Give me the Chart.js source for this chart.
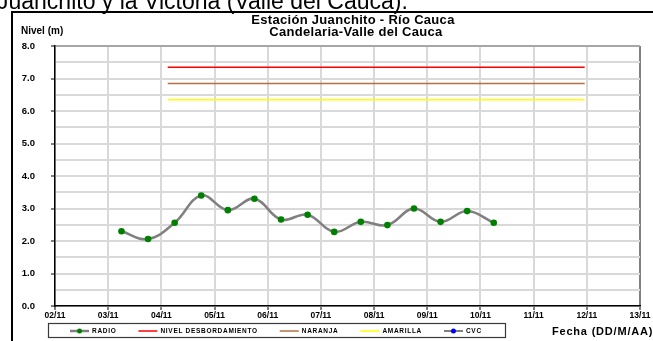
<!DOCTYPE html>
<html>
<head>
<meta charset="utf-8">
<script src="https://cdn.jsdelivr.net/npm/chart.js@4/dist/chart.umd.min.js"></script>
<style>
  html, body { margin: 0; padding: 0; background: #fff; overflow: hidden; }
  canvas { display: block; }
</style>
</head>
<body>
<canvas id="c" width="653" height="341"></canvas>
<script>
// Day of month (November 2011) used on the date axis
const dayTicks = [2, 3, 4, 5, 6, 7, 8, 9, 10, 11, 12, 13];
const xTickLabels = ['02/11', '03/11', '04/11', '05/11', '06/11', '07/11', '08/11', '09/11', '10/11', '11/11', '12/11', '13/11'];
const yTickLabels = ['0.0', '1.0', '2.0', '3.0', '4.0', '5.0', '6.0', '7.0', '8.0'];

// Radio readings: time (day.fraction) and level in metres
const readingTimes = [3.25, 3.75, 4.25, 4.75, 5.25, 5.75, 6.25, 6.75, 7.25, 7.75, 8.25, 8.75, 9.25, 9.75, 10.25];
const radioLevels = [2.30, 2.06, 2.56, 3.40, 2.95, 3.30, 2.66, 2.81, 2.28, 2.59, 2.49, 3.00, 2.59, 2.92, 2.56];

// Alert thresholds (m) and the period they are drawn over
const alertSpan = [4.12, 11.96];
const nivelDesbordamiento = 7.35;
const nivelNaranja = 6.85;
const nivelAmarilla = 6.35;

const FONT = '"Liberation Sans", Arial, sans-serif';

function flatLine(level) {
  return alertSpan.map(x => ({ x: x, y: level }));
}

// Surrounding frame, headings and axis captions
const textPlugin = {
  id: 'captions',
  afterDraw(chart) {
    const ctx = chart.ctx;
    ctx.save();
    // paragraph text running above the figure
    ctx.fillStyle = '#000';
    ctx.font = '23px ' + FONT;
    ctx.textBaseline = 'alphabetic';
    ctx.textAlign = 'left';
    ctx.fillText('Juanchito y la Victoria (Valle del Cauca).', -3, 9);

    // chart frame
    ctx.fillRect(11, 11, 653, 2);
    ctx.fillRect(11, 11, 2, 341);

    // title
    ctx.textAlign = 'center';
    ctx.textBaseline = 'middle';
    ctx.font = 'bold 13px ' + FONT;
    ctx.letterSpacing = '0.3px';
    ctx.fillText('Estación Juanchito - Río Cauca', 353, 20);
    ctx.fillText('Candelaria-Valle del Cauca', 356, 32);

    ctx.textAlign = 'left';
    ctx.letterSpacing = '0px';
    ctx.font = 'bold 10px ' + FONT;
    ctx.fillText('Nivel (m)', 21, 31);

    ctx.font = 'bold 11px ' + FONT;
    ctx.letterSpacing = '0.8px';
    ctx.fillText('Fecha (DD/M/AA)', 552, 332);
    ctx.restore();
  }
};

// Boxed legend below the axis
const legendPlugin = {
  id: 'boxLegend',
  afterDraw(chart) {
    const ctx = chart.ctx;
    ctx.save();
    ctx.strokeStyle = '#3a3a3a';
    ctx.lineWidth = 1.2;
    ctx.strokeRect(48.5, 323.5, 457, 14);
    ctx.font = 'bold 6.5px ' + FONT;
    ctx.letterSpacing = '0.7px';
    ctx.textBaseline = 'middle';
    ctx.textAlign = 'left';
    const cy = 331;
    let x = 70;
    chart.data.datasets.forEach(ds => {
      ctx.strokeStyle = ds.borderColor;
      ctx.lineWidth = ds.borderWidth;
      ctx.beginPath();
      ctx.moveTo(x, cy);
      ctx.lineTo(x + 19, cy);
      ctx.stroke();
      if (ds.pointRadius > 0) {
        ctx.fillStyle = ds.pointBackgroundColor;
        ctx.beginPath();
        ctx.arc(x + 9.5, cy, 2.5, 0, Math.PI * 2);
        ctx.fill();
      }
      ctx.fillStyle = '#000';
      ctx.fillText(ds.label, x + 22, cy + 0.5);
      x += 22 + ctx.measureText(ds.label).width + 22;
    });
    ctx.restore();
  }
};

new Chart(document.getElementById('c'), {
  type: 'line',
  data: {
    datasets: [
      {
        label: 'RADIO',
        data: readingTimes.map((t, i) => ({ x: t, y: radioLevels[i] })),
        borderColor: '#808080',
        borderWidth: 2.5,
        tension: 0.4,
        pointRadius: 3.3,
        pointBackgroundColor: '#008000',
        pointBorderColor: '#008000',
        pointBorderWidth: 0
      },
      {
        label: 'NIVEL DESBORDAMIENTO',
        data: flatLine(nivelDesbordamiento),
        borderColor: '#ff0000',
        borderWidth: 1.5,
        pointRadius: 0
      },
      {
        label: 'NARANJA',
        data: flatLine(nivelNaranja),
        borderColor: '#b5703f',
        borderWidth: 1.5,
        pointRadius: 0
      },
      {
        label: 'AMARILLA',
        data: flatLine(nivelAmarilla),
        borderColor: '#ffff00',
        borderWidth: 1.5,
        pointRadius: 0
      },
      {
        label: 'CVC',
        data: [],
        borderColor: '#808080',
        borderWidth: 2,
        pointRadius: 3,
        pointBackgroundColor: '#0000ff',
        pointBorderColor: '#0000ff'
      }
    ]
  },
  options: {
    responsive: false,
    animation: false,
    devicePixelRatio: 1,
    layout: { padding: { top: 46, right: 13, left: 0, bottom: 0 } },
    plugins: {
      legend: { display: false },
      title: { display: false },
      tooltip: { enabled: false }
    },
    scales: {
      x: {
        type: 'linear',
        min: 2,
        max: 13,
        afterBuildTicks: scale => { scale.ticks = dayTicks.map(v => ({ value: v })); },
        afterFit: scale => { scale.height = 35; },
        ticks: {
          autoSkip: false,
          maxRotation: 0,
          padding: 1,
          color: '#000',
          font: { family: FONT, size: 8.5, weight: 'bold' },
          callback: v => xTickLabels[dayTicks.indexOf(v)]
        },
        grid: {
          color: c => (c.tick && c.tick.value === 13) ? '#808080' : '#d9d9d9',
          lineWidth: 2,
          tickLength: 4,
          tickColor: '#000',
          tickWidth: 1
        },
        border: { color: '#000', width: 1.5 }
      },
      y: {
        min: 0,
        max: 8,
        afterFit: scale => { scale.width = 55; },
        ticks: {
          stepSize: 0.5,
          autoSkip: false,
          padding: 16,
          color: '#000',
          font: { family: FONT, size: 9.5, weight: 'bold' },
          callback: v => Number.isInteger(v) ? yTickLabels[v] : ''
        },
        grid: {
          color: c => (c.tick && c.tick.value === 8) ? '#a6a6a6' : '#d9d9d9',
          lineWidth: 2,
          tickLength: 4,
          tickColor: c => (c.tick && Number.isInteger(c.tick.value)) ? '#000' : 'rgba(0,0,0,0)',
          tickWidth: 1
        },
        border: { color: '#000', width: 1.5 }
      }
    }
  },
  plugins: [textPlugin, legendPlugin]
});
</script>
</body>
</html>
